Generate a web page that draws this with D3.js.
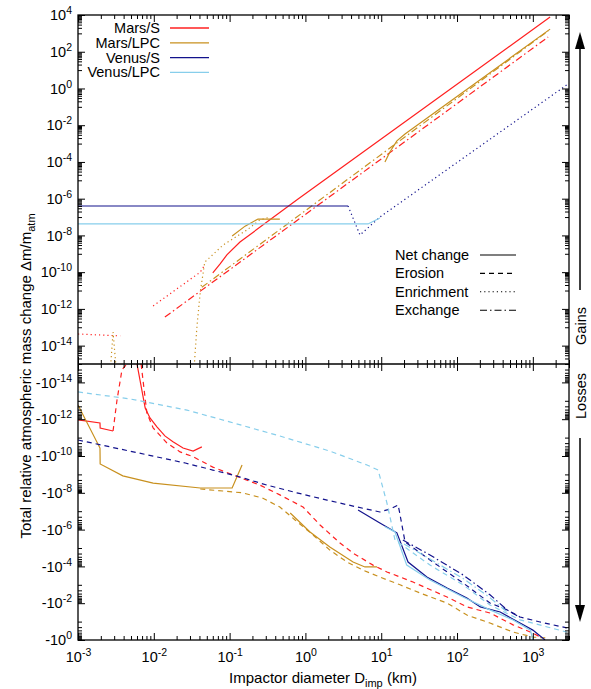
<!DOCTYPE html>
<html>
<head>
<meta charset="utf-8">
<script src="https://cdn.jsdelivr.net/npm/d3@7"></script>
<style>
  body { margin: 0; background: #fff; }
  text { font-family: "Liberation Sans", Arial, Helvetica, sans-serif; fill: #000; }
</style>
</head>
<body>
<svg id="chart" width="591" height="689"></svg>
<script>
// ---- data: [impactor diameter km, relative mass change] ----
// gains (top panel)
const marsS_net_gain   = [[0.060,9.1e-11],[0.075,2.8e-10],[0.092,8.7e-10],[0.137,4.4e-9],[0.8,9.5e-7],[1690,7.8e3]];
const marsS_exch_gain  = [[0.014,3.6e-13],[1590,630]];
const marsS_enr_gain   = [[1e-3,4.3e-14],[0.0036,3.4e-14],null,[0.0098,1.45e-12],[0.041,1.0e-10],[0.047,2.5e-10]];
const marsLPC_net_gain = [[0.108,9.3e-9],[0.16,3.2e-8],[0.237,7.8e-8],[0.46,7.8e-8],null,
                          [11.2,1e-4],[13,3.5e-4],[16.1,1.4e-3],[20.6,3.3e-3],[1690,1.7e3]];
const marsLPC_exch_gain = [[0.043,1.5e-11],[1590,1.35e3]];
const marsLPC_enr_gain = [[2.6e-3,1e-16],[2.9e-3,5.5e-14],[3.3e-3,1e-16],null,
                          [0.033,1e-16],[0.037,1.0e-13],[0.041,8.3e-12],[0.047,3.5e-10],[0.082,3e-9],[0.17,2e-8],[0.25,6.9e-8],[0.34,1e-7]];
const venusS_net_gain  = [[1e-3,4e-7],[3.65,4e-7]];
const venusS_enr_gain  = [[3.65,4e-7],[5.25,1.05e-8],[9.6,1e-7],[2800,1.55]];
const venusLPC_net_gain = [[1e-3,4.2e-8],[6.7,4.2e-8],[9.6,8.9e-8]];

// losses (bottom panel)
const marsS_net_loss = [[1e-3,-1.1e-12],[1.95e-3,-1.6e-12],[1.96e-3,-3.0e-12],[2.9e-3,-4.4e-12],null,
                        [6.0e-3,-1e-15],[7.7e-3,-2.5e-13],[8.9e-3,-8.5e-13],[0.011,-2.6e-12],[0.014,-8.1e-12],
                        [0.0179,-1.7e-11],[0.0243,-3.7e-11],[0.033,-5.4e-11],[0.043,-3.2e-11]];
const marsS_eros_loss = [[2.9e-3,-4.4e-12],[3.27e-3,-9.1e-14],[3.8e-3,-2.1e-15],[4.4e-3,-1e-15],null,
                         [6.8e-3,-1e-15],[8.1e-3,-4.6e-13],[9.8e-3,-3.0e-12],[0.0149,-1.95e-11],[0.0222,-6e-11],
                         [0.033,-1.1e-10],[0.060,-4e-10],[0.111,-1.07e-9],[0.25,-3.8e-9],[0.46,-1.3e-8],
                         [0.93,-5.9e-8],[1.56,-5.6e-7],[2.86,-5.4e-6],[4.25,-1.9e-5],[7.8,-8.5e-5],[11.9,-2e-4],
                         [26.3,-7.1e-4],[73.8,-4.6e-3],[135,-0.016],[272,-0.034],[548,-0.15],[1000,-0.42],[1245,-0.69]];
const marsLPC_net_loss = [[1e-3,-1.7e-13],[1.95e-3,-3.7e-11],[1.96e-3,-2.7e-10],[3.9e-3,-1.2e-9],[9.8e-3,-3e-9],
                          [0.041,-5.5e-9],[0.108,-5.5e-9],[0.146,-3.1e-10],null,
                          [0.63,-1.26e-7],[1.15,-1.35e-6],[2.1,-8.9e-6],[4.25,-5.8e-5],[6.1,-1.07e-4],[8.8,-1.07e-4]];
const marsLPC_eros_loss = [[0.041,-6.2e-9],[0.082,-8e-9],[0.146,-1.0e-8],[0.27,-1.9e-8],[0.46,-5.9e-8],[0.73,-3e-7],
                           [1.26,-1.95e-6],[2.1,-1.3e-5],[3.54,-5.8e-5],[5.75,-1.6e-4],[9.6,-3.8e-4],[17.7,-1.0e-3],
                           [32.5,-2.8e-3],[73.8,-9.8e-3],[135,-0.044],[272,-0.12],[548,-0.37],[1000,-0.69],[1540,-0.78]];
const venusS_net_loss = [[4.95,-8.5e-8],[9.6,-4.4e-7],[16.1,-1.5e-6],[22.6,-5.8e-5],[40,-3.8e-4],[74,-1.5e-3],
                         [135,-5.2e-3],[203,-0.016],[371,-0.030],[678,-0.12],[1000,-0.29],[1450,-1]];
const venusS_eros_loss = [[1e-3,-1.35e-11],[0.026,-2.4e-10],[0.060,-5.8e-10],[0.125,-1.23e-9],[0.31,-3.8e-9],
                          [0.77,-1.0e-8],[1.93,-2.5e-8],[4.8,-5.9e-8],[9.6,-1.1e-7],[13.1,-7.6e-8],[16.7,-4.6e-8],
                          [17.5,-1.2e-7],[20.6,-4.6e-6],[44,-4.5e-5],[120,-7.9e-4],[272,-9.8e-3],[457,-0.023],
                          [678,-0.056],[1245,-0.105],[2800,-0.22]];
const venusS_exch_loss = [[19.3,-3.7e-6],[44,-2.4e-5],[120,-2.9e-4],[272,-3.5e-3],[457,-0.023],[678,-0.06]];
const venusLPC_net_loss = [[11.2,-7e-7],[15.2,-1.35e-6],[21.7,-8.5e-5],[44,-5.5e-4],[120,-4.6e-3],[272,-0.023],
                           [548,-0.082],[930,-0.29],[1000,-1]];
const venusLPC_eros_loss = [[1e-3,-3.3e-14],[4.85e-3,-7.9e-14],[0.0274,-3.2e-13],[0.1,-1.4e-12],[0.46,-8.2e-12],
                            [2.1,-5.4e-11],[6.5,-3.1e-10],[9.1,-5.8e-10],[11.9,-3.6e-8],[15.2,-3.7e-6],[44,-8.5e-5],
                            [120,-1e-3],[272,-0.0126],[678,-0.08],[2800,-0.37]];
const venusLPC_exch_loss = [[20,-6e-6],[44,-4e-5],[120,-4.5e-4],[272,-5e-3],[457,-0.03]];

const impactors = ["Mars/S", "Mars/LPC", "Venus/S", "Venus/LPC"];
const lineKinds = ["Net change", "Erosion", "Enrichment", "Exchange"];
const xTicks = [1e-3, 1e-2, 1e-1, 1e0, 1e1, 1e2, 1e3];
const topTickExp = [4, 2, 0, -2, -4, -6, -8, -10, -12, -14];
const botTickExp = [-14, -12, -10, -8, -6, -4, -2, 0];

// ---- styles ----
const colors = {"Mars/S": "#ff2020", "Mars/LPC": "#c8901e", "Venus/S": "#12128c", "Venus/LPC": "#87ceeb"};
const dashes = {"Net change": null, "Erosion": "5,4", "Enrichment": "1.2,3", "Exchange": "7,3,1.5,3"};

const series = [
  [marsS_net_gain, "Mars/S", "Net change", "top"],
  [marsS_exch_gain, "Mars/S", "Exchange", "top"],
  [marsS_enr_gain, "Mars/S", "Enrichment", "top"],
  [marsLPC_net_gain, "Mars/LPC", "Net change", "top"],
  [marsLPC_exch_gain, "Mars/LPC", "Exchange", "top"],
  [marsLPC_enr_gain, "Mars/LPC", "Enrichment", "top"],
  [venusS_net_gain, "Venus/S", "Net change", "top"],
  [venusS_enr_gain, "Venus/S", "Enrichment", "top"],
  [venusLPC_net_gain, "Venus/LPC", "Net change", "top"],
  [marsS_net_loss, "Mars/S", "Net change", "bot"],
  [marsS_eros_loss, "Mars/S", "Erosion", "bot"],
  [marsLPC_net_loss, "Mars/LPC", "Net change", "bot"],
  [marsLPC_eros_loss, "Mars/LPC", "Erosion", "bot"],
  [venusS_eros_loss, "Venus/S", "Erosion", "bot"],
  [venusS_exch_loss, "Venus/S", "Exchange", "bot"],
  [venusS_net_loss, "Venus/S", "Net change", "bot"],
  [venusLPC_eros_loss, "Venus/LPC", "Erosion", "bot"],
  [venusLPC_exch_loss, "Venus/LPC", "Exchange", "bot"],
  [venusLPC_net_loss, "Venus/LPC", "Net change", "bot"]
];

const svg = d3.select("#chart");
const L = 78, R = 569, T = 15, M = 364, B = 640;

const x = d3.scaleLog().domain([1e-3, 3e3]).range([L, R]);
const yTop = d3.scaleLog().domain([1e-15, 1e4]).range([M, T]);
const yBot = d3.scaleLog().domain([-1e-15, -1]).range([M, B]);

// clip paths
const defs = svg.append("defs");
defs.append("clipPath").attr("id", "clipTop").append("rect").attr("x", L).attr("y", T).attr("width", R - L).attr("height", M - T);
defs.append("clipPath").attr("id", "clipBot").append("rect").attr("x", L).attr("y", M).attr("width", R - L).attr("height", B - M);

// curves
const gTop = svg.append("g").attr("clip-path", "url(#clipTop)");
const gBot = svg.append("g").attr("clip-path", "url(#clipBot)");
series.forEach(([data, imp, kind, panel]) => {
  const y = panel === "top" ? yTop : yBot;
  const line = d3.line().defined(d => d !== null).x(d => x(d[0])).y(d => y(d[1]));
  (panel === "top" ? gTop : gBot).append("path")
    .attr("d", line(data))
    .attr("fill", "none")
    .attr("stroke", colors[imp])
    .attr("stroke-width", 1.2)
    .attr("stroke-dasharray", dashes[kind]);
});

// ---- axes ----
function minorVals(exps, sign) {
  const v = [];
  exps.forEach(e => { for (let k = 1; k <= 9; k++) v.push(sign * k * Math.pow(10, e - 1)); });
  return v;
}
const xMinor = [];
for (let e = -3; e <= 3; e++) for (let k = 2; k <= 9; k++) { const v = k * Math.pow(10, e); if (v <= 3e3) xMinor.push(v); }

function supLabel(sel, base, exp) {
  sel.text(null);
  sel.append("tspan").text(base);
  sel.append("tspan").attr("dy", -6).attr("font-size", 10.5).text(exp);
}

// bottom x axis
const gx = svg.append("g").attr("transform", `translate(0,${B})`)
  .call(d3.axisBottom(x).tickValues(xTicks).tickSizeInner(-7).tickSizeOuter(0).tickPadding(12));
gx.selectAll("text").attr("font-size", 14.5).each(function(d) { supLabel(d3.select(this), "10", Math.round(Math.log10(d))); });
svg.append("g").attr("transform", `translate(0,${B})`)
  .call(d3.axisBottom(x).tickValues(xMinor).tickSizeInner(-4).tickSizeOuter(0).tickFormat(""));

// top x axis and middle line
[[T, 1], [M, 1], [M, -1]].forEach(([yy, dir]) => {
  svg.append("g").attr("transform", `translate(0,${yy})`)
    .call(d3.axisTop(x).tickValues(xTicks).tickSizeInner(-7 * dir).tickSizeOuter(0).tickFormat(""));
  svg.append("g").attr("transform", `translate(0,${yy})`)
    .call(d3.axisTop(x).tickValues(xMinor).tickSizeInner(-4 * dir).tickSizeOuter(0).tickFormat(""));
});

// left y axes
const topMaj = topTickExp.map(e => Math.pow(10, e));
const botMaj = botTickExp.map(e => -Math.pow(10, e));
const gyt = svg.append("g").attr("transform", `translate(${L},0)`)
  .call(d3.axisLeft(yTop).tickValues(topMaj).tickSizeInner(-7).tickSizeOuter(0).tickPadding(6));
gyt.selectAll("text").attr("font-size", 14.5).each(function(d) { supLabel(d3.select(this), "10", Math.round(Math.log10(d))); });
const gyb = svg.append("g").attr("transform", `translate(${L},0)`)
  .call(d3.axisLeft(yBot).tickValues(botMaj).tickSizeInner(-7).tickSizeOuter(0).tickPadding(6));
gyb.selectAll("text").attr("font-size", 14.5).each(function(d) { supLabel(d3.select(this), "-10", Math.round(Math.log10(-d))); });
svg.append("g").attr("transform", `translate(${L},0)`)
  .call(d3.axisLeft(yTop).tickValues(minorVals(topTickExp, 1).filter(v => v >= 1e-15)).tickSizeInner(-4).tickSizeOuter(0).tickFormat(""));
svg.append("g").attr("transform", `translate(${L},0)`)
  .call(d3.axisLeft(yBot).tickValues(minorVals(botTickExp, -1)).tickSizeInner(-4).tickSizeOuter(0).tickFormat(""));

// right y axes (mirror)
svg.append("g").attr("transform", `translate(${R},0)`)
  .call(d3.axisRight(yTop).tickValues(topMaj).tickSizeInner(-7).tickSizeOuter(0).tickFormat(""));
svg.append("g").attr("transform", `translate(${R},0)`)
  .call(d3.axisRight(yTop).tickValues(minorVals(topTickExp, 1).filter(v => v >= 1e-15)).tickSizeInner(-4).tickSizeOuter(0).tickFormat(""));
svg.append("g").attr("transform", `translate(${R},0)`)
  .call(d3.axisRight(yBot).tickValues(botMaj).tickSizeInner(-7).tickSizeOuter(0).tickFormat(""));
svg.append("g").attr("transform", `translate(${R},0)`)
  .call(d3.axisRight(yBot).tickValues(minorVals(botTickExp, -1)).tickSizeInner(-4).tickSizeOuter(0).tickFormat(""));

svg.selectAll(".domain").remove();
svg.selectAll(".tick line").attr("stroke", "#000").attr("stroke-width", 1);

// frames
svg.append("rect").attr("x", L).attr("y", T).attr("width", R - L).attr("height", B - T)
  .attr("fill", "none").attr("stroke", "#000").attr("stroke-width", 1.3);
svg.append("line").attr("x1", L).attr("x2", R).attr("y1", M).attr("y2", M)
  .attr("stroke", "#000").attr("stroke-width", 1.3);

// ---- axis titles ----
const xt = svg.append("text").attr("x", 323).attr("y", 683).attr("text-anchor", "middle").attr("font-size", 15);
xt.append("tspan").text("Impactor diameter D");
xt.append("tspan").attr("font-size", 11).attr("dy", 4).text("imp");
xt.append("tspan").attr("dy", -4).text(" (km)");

const yt = svg.append("text").attr("transform", "translate(31,376) rotate(-90)").attr("text-anchor", "middle").attr("font-size", 15);
yt.append("tspan").text("Total relative atmospheric mass change \u0394m/m");
yt.append("tspan").attr("font-size", 11).attr("dy", 4).text("atm");

// ---- legends ----
impactors.forEach((name, i) => {
  const yy = 28 + i * 14.8;
  svg.append("text").attr("x", 160).attr("y", yy + 5).attr("text-anchor", "end").attr("font-size", 14.5).text(name);
  svg.append("line").attr("x1", 170).attr("x2", 209).attr("y1", yy).attr("y2", yy)
    .attr("stroke", colors[name]).attr("stroke-width", 1.3);
});
lineKinds.forEach((name, i) => {
  const yy = 255 + i * 18.4;
  svg.append("text").attr("x", 395).attr("y", yy + 5).attr("font-size", 14.5).text(name);
  svg.append("line").attr("x1", 480).attr("x2", 516).attr("y1", yy).attr("y2", yy)
    .attr("stroke", "#000").attr("stroke-width", 1.1).attr("stroke-dasharray", dashes[name]);
});

// ---- gains / losses arrows ----
svg.append("line").attr("x1", 580).attr("x2", 580).attr("y1", 290).attr("y2", 44).attr("stroke", "#000").attr("stroke-width", 1.5);
svg.append("path").attr("d", "M580,32 L575,49 L585,49 Z").attr("fill", "#000");
svg.append("line").attr("x1", 580).attr("x2", 580).attr("y1", 438).attr("y2", 610).attr("stroke", "#000").attr("stroke-width", 1.5);
svg.append("path").attr("d", "M580,622 L575,605 L585,605 Z").attr("fill", "#000");
svg.append("text").attr("transform", "translate(586,326) rotate(-90)").attr("text-anchor", "middle").attr("font-size", 14.5).text("Gains");
svg.append("text").attr("transform", "translate(586,396) rotate(-90)").attr("text-anchor", "middle").attr("font-size", 14.5).text("Losses");
</script>
</body>
</html>
